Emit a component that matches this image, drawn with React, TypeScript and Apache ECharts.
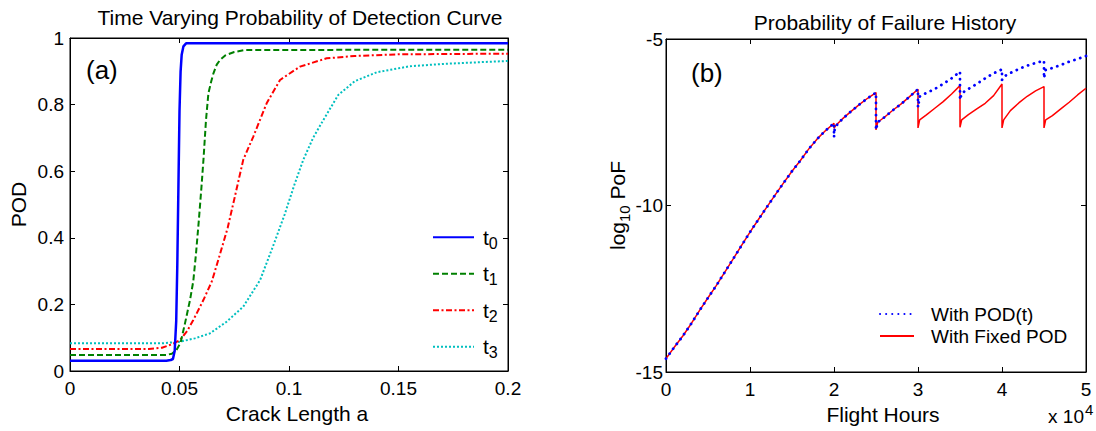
import React, { useEffect, useRef } from "react";
import * as echarts from "echarts";

// ---------- Panel (a): POD curves ----------
const seriesNamesA = ["t0", "t1", "t2", "t3"];

const crackT0 = [0, 0.044, 0.046, 0.047, 0.0478, 0.0485, 0.049, 0.0495, 0.05, 0.0505, 0.051, 0.0518, 0.053, 0.2];
const podT0 = [0.031, 0.031, 0.033, 0.036, 0.06, 0.15, 0.32, 0.55, 0.78, 0.9, 0.95, 0.975, 0.984, 0.984];

const crackT1 = [0, 0.044, 0.0465, 0.0485, 0.0505, 0.0525, 0.0548, 0.0563, 0.0575, 0.0588, 0.06, 0.061, 0.0621, 0.0632, 0.0645, 0.0655, 0.067, 0.0685, 0.071, 0.075, 0.08, 0.2];
const podT1 = [0.048, 0.048, 0.052, 0.062, 0.085, 0.143, 0.213, 0.27, 0.35, 0.45, 0.55, 0.64, 0.754, 0.834, 0.87, 0.894, 0.92, 0.934, 0.948, 0.958, 0.964, 0.965];

const crackT2 = [0, 0.036, 0.042, 0.0465, 0.0502, 0.0535, 0.0563, 0.0609, 0.0647, 0.068, 0.072, 0.0755, 0.0791, 0.0837, 0.0898, 0.0959, 0.105, 0.1172, 0.13, 0.15, 0.2];
const podT2 = [0.066, 0.066, 0.07, 0.08, 0.093, 0.12, 0.153, 0.213, 0.268, 0.34, 0.43, 0.53, 0.634, 0.704, 0.804, 0.874, 0.914, 0.939, 0.946, 0.951, 0.953];

const crackT3 = [0, 0.042, 0.0502, 0.057, 0.0639, 0.0715, 0.0791, 0.0868, 0.093, 0.098, 0.1025, 0.1065, 0.111, 0.1157, 0.1225, 0.13, 0.14, 0.155, 0.17, 0.186, 0.2];
const podT3 = [0.083, 0.083, 0.088, 0.098, 0.113, 0.148, 0.193, 0.273, 0.38, 0.47, 0.56, 0.634, 0.7, 0.754, 0.829, 0.87, 0.897, 0.915, 0.922, 0.927, 0.931];

// ---------- Panel (b): log10 PoF history ----------
const seriesNamesB = ["With POD(t)", "With Fixed POD"];

// common part (identical for both curves), flight hours
const hoursCommon = [0, 1000, 2000, 3000, 4000, 5000, 6000, 7000, 8000, 9000, 10000, 11000, 12000, 13000, 14000, 15000, 16000, 17000, 18000, 19000, 20000];
const pofCommon = [-14.6, -14.25, -13.92, -13.55, -13.15, -12.77, -12.4, -12.0, -11.6, -11.2, -10.8, -10.42, -10.05, -9.68, -9.32, -8.97, -8.65, -8.3, -8.0, -7.75, -7.53];

const hoursPodT = [20000, 20100, 21000, 22000, 23000, 24000, 25000, 25000, 25200, 26000, 27000, 28000, 29000, 30000, 30000, 30200, 31000, 32000, 33000, 34000, 35000, 35000, 35200, 36000, 37000, 38000, 39000, 40000, 40000, 40200, 41000, 42000, 43000, 44000, 45000, 45000, 45200, 46000, 47000, 48000, 49000, 50000];
const pofPodT = [-7.95, -7.65, -7.4, -7.18, -6.97, -6.78, -6.61, -7.73, -7.5, -7.35, -7.14, -6.95, -6.73, -6.51, -7.05, -6.73, -6.62, -6.5, -6.35, -6.18, -5.98, -6.83, -6.63, -6.5, -6.35, -6.18, -6.03, -5.91, -6.23, -6.13, -6.02, -5.9, -5.8, -5.72, -5.65, -6.18, -5.93, -5.87, -5.78, -5.68, -5.6, -5.51];

const hoursFixed = [20000, 20200, 21000, 22000, 23000, 24000, 25000, 25000, 25200, 26000, 27000, 28000, 29000, 30000, 30000, 30200, 31000, 32000, 33000, 34000, 35000, 35000, 35200, 36000, 37000, 38000, 39000, 40000, 40000, 40200, 41000, 42000, 43000, 44000, 45000, 45000, 45200, 46000, 47000, 48000, 49000, 50000];
const pofFixed = [-7.68, -7.6, -7.4, -7.18, -6.97, -6.78, -6.61, -7.73, -7.5, -7.35, -7.14, -6.95, -6.73, -6.51, -7.67, -7.43, -7.28, -7.08, -6.88, -6.65, -6.4, -7.65, -7.43, -7.27, -7.1, -6.93, -6.7, -6.35, -7.67, -7.43, -7.15, -6.92, -6.72, -6.56, -6.43, -7.67, -7.43, -7.3, -7.1, -6.9, -6.68, -6.48];

const xTicksA = [0, 0.2, 0.05];
const yTicksA = [0, 1, 0.2];
const xTicksB = [0, 50000, 10000];
const yTicksB = [-15, -5, 5];

const FONT = '"Liberation Sans", Arial, Helvetica, sans-serif';

function pairs(xs: number[], ys: number[]) {
  return xs.map((x, i) => [x, ys[i]]);
}

function axisBase(extra: any) {
  return {
    type: "value",
    splitLine: { show: false },
    axisLine: { show: true, onZero: false, lineStyle: { color: "#000", width: 1 } },
    axisTick: { show: true, inside: true, length: 5, lineStyle: { color: "#000", width: 1 } },
    axisLabel: { color: "#000", fontSize: 19, fontFamily: FONT },
    nameTextStyle: { color: "#000", fontSize: 21, fontFamily: FONT, lineHeight: 21 },
    ...extra,
  };
}

export default function App() {
  const ref = useRef<HTMLDivElement>(null);
  useEffect(() => {
    if (!ref.current) return;
    const chart = echarts.init(ref.current, null, { renderer: "svg" });
    const option: any = {
      animation: false,
      backgroundColor: "#fff",
      textStyle: { fontFamily: FONT },
      grid: [
        { left: 70, top: 38, width: 438, height: 333, show: true, borderColor: "#000", borderWidth: 1, backgroundColor: "transparent" },
        { left: 666, top: 39, width: 420, height: 333, show: true, borderColor: "#000", borderWidth: 1, backgroundColor: "transparent" },
      ],
      xAxis: [
        axisBase({
          gridIndex: 0, position: "bottom", min: xTicksA[0], max: xTicksA[1], interval: xTicksA[2],
          axisLabel: { color: "#000", fontSize: 19, fontFamily: FONT, margin: 8 },
          name: "Crack Length a", nameLocation: "middle", nameGap: 25,
          nameTextStyle: { color: "#000", fontSize: 21, fontFamily: FONT, lineHeight: 21, padding: [0, 0, 0, 16] },
        }),
        axisBase({ gridIndex: 0, position: "top", min: xTicksA[0], max: xTicksA[1], interval: xTicksA[2], axisLabel: { show: false } }),
        axisBase({
          gridIndex: 1, position: "bottom", min: xTicksB[0], max: xTicksB[1], interval: xTicksB[2],
          axisLabel: { color: "#000", fontSize: 19, fontFamily: FONT, margin: 8, formatter: (v: number) => String(v / 10000) },
          name: "Flight Hours", nameLocation: "middle", nameGap: 29,
          nameTextStyle: { color: "#000", fontSize: 21, fontFamily: FONT, lineHeight: 21, padding: [0, 0, 0, 14] },
        }),
        axisBase({ gridIndex: 1, position: "top", min: xTicksB[0], max: xTicksB[1], interval: xTicksB[2], axisLabel: { show: false } }),
      ],
      yAxis: [
        axisBase({
          gridIndex: 0, position: "left", min: yTicksA[0], max: yTicksA[1], interval: yTicksA[2],
          axisLabel: { color: "#000", fontSize: 19, fontFamily: FONT, margin: 6 },
          name: "POD", nameLocation: "middle", nameGap: 41,
        }),
        axisBase({ gridIndex: 0, position: "right", min: yTicksA[0], max: yTicksA[1], interval: yTicksA[2], axisLabel: { show: false } }),
        axisBase({
          gridIndex: 1, position: "left", min: yTicksB[0], max: yTicksB[1], interval: yTicksB[2],
          axisLabel: { color: "#000", fontSize: 19, fontFamily: FONT, margin: 3 },
          name: "{a|log}{b|10}{a| PoF}", nameLocation: "middle", nameGap: 30,
          nameTextStyle: {
            color: "#000", fontFamily: FONT,
            rich: {
              a: { fontSize: 21, lineHeight: 21, padding: [4, 0, 4, 0], color: "#000", fontFamily: FONT },
              b: { fontSize: 15, lineHeight: 15, padding: [14, 0, 0, 0], color: "#000", fontFamily: FONT },
            },
          },
        }),
        axisBase({ gridIndex: 1, position: "right", min: yTicksB[0], max: yTicksB[1], interval: yTicksB[2], axisLabel: { show: false } }),
      ],
      legend: [
        {
          data: seriesNamesA, orient: "vertical", left: 432, top: 221.7, padding: 0,
          itemWidth: 41, itemHeight: 10, itemGap: 5.5, selectedMode: false,
          itemStyle: { opacity: 0 },
          formatter: (name: string) => `{t|t}{s|${name.slice(1)}}`,
          textStyle: {
            color: "#000", fontFamily: FONT,
            rich: {
              t: { fontSize: 21, lineHeight: 20, padding: [5, 0, 5, 4], color: "#000", fontFamily: FONT },
              s: { fontSize: 16, lineHeight: 15, padding: [13.5, 0, 1.5, 0], color: "#000", fontFamily: FONT },
            },
          },
        },
        {
          data: seriesNamesB, orient: "vertical", left: 879, top: 304, padding: 0,
          itemWidth: 34, itemHeight: 10, itemGap: 2, selectedMode: false,
          itemStyle: { opacity: 0 },
          textStyle: { color: "#000", fontSize: 19, lineHeight: 20, fontFamily: FONT, padding: [0, 0, 0, 12] },
        },
      ],
      graphic: [
        { type: "text", x: 300, y: 17, style: { text: "Time Varying Probability of Detection Curve", fontSize: 21, fontFamily: FONT, fill: "#000", textAlign: "center", textVerticalAlign: "middle", align: "center", verticalAlign: "middle" } },
        { type: "text", x: 885, y: 22, style: { text: "Probability of Failure History", fontSize: 21, fontFamily: FONT, fill: "#000", textAlign: "center", textVerticalAlign: "middle", align: "center", verticalAlign: "middle" } },
        { type: "text", x: 86, y: 70, style: { text: "(a)", fontSize: 26, fontFamily: FONT, fill: "#000", textAlign: "left", textVerticalAlign: "middle", align: "left", verticalAlign: "middle" } },
        { type: "text", x: 691, y: 73, style: { text: "(b)", fontSize: 26, fontFamily: FONT, fill: "#000", textAlign: "left", textVerticalAlign: "middle", align: "left", verticalAlign: "middle" } },
        { type: "text", x: 1084, y: 416, style: { text: "x 10", fontSize: 19, fontFamily: FONT, fill: "#000", textAlign: "right", textVerticalAlign: "middle", align: "right", verticalAlign: "middle" } },
        { type: "text", x: 1085, y: 409, style: { text: "4", fontSize: 15, fontFamily: FONT, fill: "#000", textAlign: "left", textVerticalAlign: "middle", align: "left", verticalAlign: "middle" } },
      ],
      series: [
        { name: "t0", type: "line", xAxisIndex: 0, yAxisIndex: 0, symbol: "none", data: pairs(crackT0, podT0), lineStyle: { color: "#0000ff", width: 2.5, type: "solid" }, itemStyle: { color: "#0000ff" }, z: 5 },
        { name: "t1", type: "line", xAxisIndex: 0, yAxisIndex: 0, symbol: "none", data: pairs(crackT1, podT1), lineStyle: { color: "#008000", width: 2, type: [6, 3] }, itemStyle: { color: "#008000" }, z: 4 },
        { name: "t2", type: "line", xAxisIndex: 0, yAxisIndex: 0, symbol: "none", data: pairs(crackT2, podT2), lineStyle: { color: "#ff0000", width: 2, type: [6, 2.5, 2, 2.5] }, itemStyle: { color: "#ff0000" }, z: 3 },
        { name: "t3", type: "line", xAxisIndex: 0, yAxisIndex: 0, symbol: "none", data: pairs(crackT3, podT3), lineStyle: { color: "#00bfbf", width: 2, type: [2, 2] }, itemStyle: { color: "#00bfbf" }, z: 2 },
        { name: "With Fixed POD", type: "line", xAxisIndex: 2, yAxisIndex: 2, symbol: "none", data: pairs(hoursCommon, pofCommon).concat(pairs(hoursFixed, pofFixed)), lineStyle: { color: "#ff0000", width: 1.5, type: "solid" }, itemStyle: { color: "#ff0000" }, z: 3 },
        { name: "With POD(t)", type: "line", xAxisIndex: 2, yAxisIndex: 2, symbol: "none", data: pairs(hoursCommon, pofCommon).concat(pairs(hoursPodT, pofPodT)), lineStyle: { color: "#0000ff", width: 2.8, type: [0.1, 6], cap: "round" }, itemStyle: { color: "#0000ff" }, z: 4 },
      ],
    };
    chart.setOption(option);
    return () => chart.dispose();
  }, []);
  return <div ref={ref} style={{ position: "fixed", left: 0, top: 0, width: 1096, height: 431, background: "#fff" }} />;
}
